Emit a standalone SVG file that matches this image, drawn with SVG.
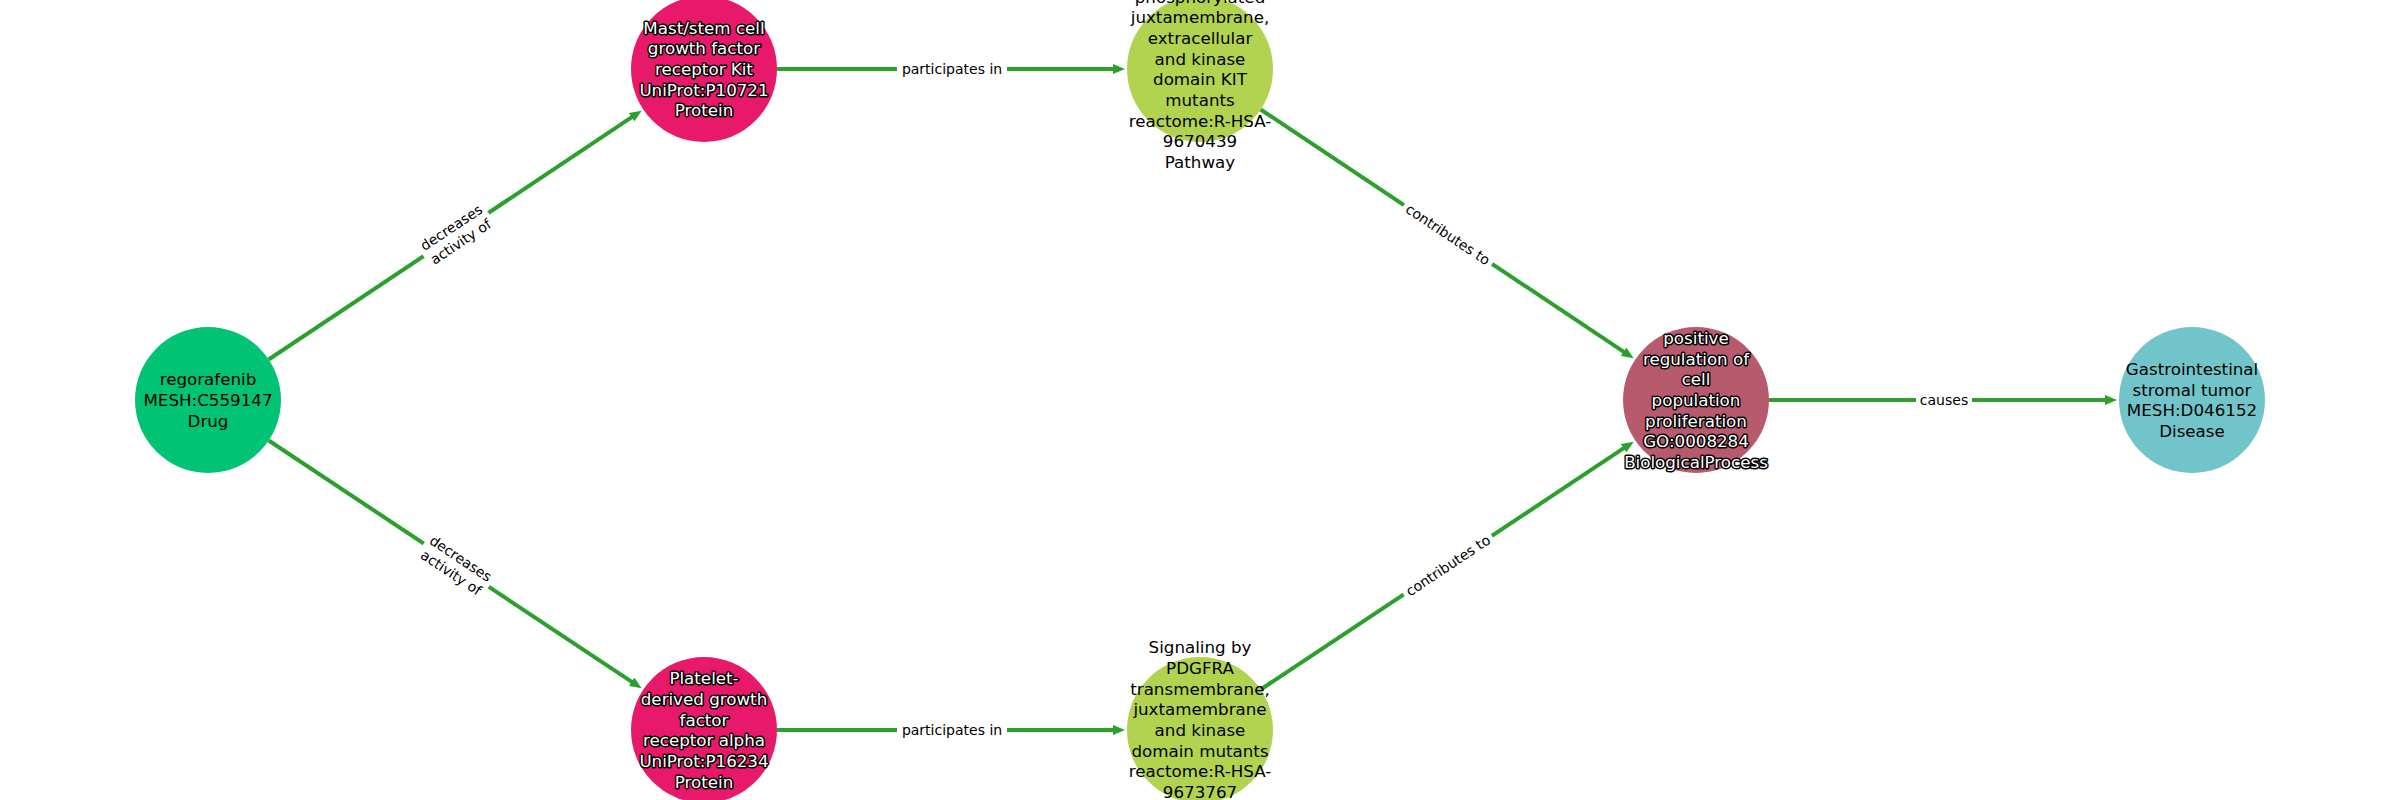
<svg xmlns="http://www.w3.org/2000/svg" width="2400" height="800" viewBox="0 0 2400 800">
<style>
.edge{stroke:#2ca02c;stroke-width:4;fill:none;marker-end:url(#arr)}
.nl{font-family:"DejaVu Sans",sans-serif;font-size:16.7px;text-anchor:middle;fill:#000}
.halo{fill:#fff;stroke:#000;stroke-width:3;paint-order:stroke;stroke-linejoin:round}
.el{font-family:"DejaVu Sans",sans-serif;font-size:14px;text-anchor:middle;fill:#000}
.lb{fill:#fff}
</style>
<defs>
<marker id="arr" markerUnits="userSpaceOnUse" markerWidth="12" markerHeight="10" refX="2" refY="5" orient="auto" viewBox="0 0 12 10">
<path d="M0,0 L12,5 L0,10 z" fill="#2ca02c"/>
</marker>
</defs>
<rect width="2400" height="800" fill="#fff"/>
<g id="connectors">
<line class="edge" x1="268.7" y1="359.5" x2="633.3" y2="116.2"/>
<line class="edge" x1="268.7" y1="440.5" x2="633.3" y2="682.8"/>
<line class="edge" x1="777" y1="69" x2="1115" y2="69"/>
<line class="edge" x1="777" y1="730" x2="1115" y2="730"/>
<line class="edge" x1="1260.7" y1="109.5" x2="1625.3" y2="352.8"/>
<line class="edge" x1="1260.7" y1="689.5" x2="1625.3" y2="447.2"/>
<line class="edge" x1="1769" y1="400" x2="2107" y2="400"/>
<g transform="translate(456,234.5) rotate(-33.7)">
<rect class="lb" x="-39" y="-19" width="78" height="38"/>
<text class="el" y="-3.5">decreases</text>
<text class="el" y="13.5">activity of</text>
</g>
<g transform="translate(456,565.5) rotate(33.7)">
<rect class="lb" x="-39" y="-19" width="78" height="38"/>
<text class="el" y="-3.5">decreases</text>
<text class="el" y="13.5">activity of</text>
</g>
<g transform="translate(952,69)">
<rect class="lb" x="-55" y="-10" width="110" height="20"/>
<text class="el" y="5">participates in</text>
</g>
<g transform="translate(952,730)">
<rect class="lb" x="-55" y="-10" width="110" height="20"/>
<text class="el" y="5">participates in</text>
</g>
<g transform="translate(1448,234.5) rotate(33.7)">
<rect class="lb" x="-53" y="-10" width="106" height="20"/>
<text class="el" y="5">contributes to</text>
</g>
<g transform="translate(1448,565.5) rotate(-33.7)">
<rect class="lb" x="-53" y="-10" width="106" height="20"/>
<text class="el" y="5">contributes to</text>
</g>
<g transform="translate(1944,400)">
<rect class="lb" x="-28" y="-10" width="56" height="20"/>
<text class="el" y="5">causes</text>
</g>
</g>
<g id="node-regorafenib">
<circle cx="208" cy="400" r="73" fill="#00c373"/>
<text class="nl"><tspan x="208" y="385.3">regorafenib</tspan><tspan x="208" y="406">MESH:C559147</tspan><tspan x="208" y="426.7">Drug</tspan></text>
</g>
<g id="node-kit">
<circle cx="704" cy="69" r="73" fill="#e8196a"/>
<text class="nl halo"><tspan x="704" y="33.6">Mast/stem cell</tspan><tspan x="704" y="54.3">growth factor</tspan><tspan x="704" y="75">receptor Kit</tspan><tspan x="704" y="95.7">UniProt:P10721</tspan><tspan x="704" y="116.4">Protein</tspan></text>
</g>
<g id="node-pdgfra">
<circle cx="704" cy="730" r="73" fill="#e8196a"/>
<text class="nl halo"><tspan x="704" y="684.25">Platelet-</tspan><tspan x="704" y="704.95">derived growth</tspan><tspan x="704" y="725.65">factor</tspan><tspan x="704" y="746.35">receptor alpha</tspan><tspan x="704" y="767.05">UniProt:P16234</tspan><tspan x="704" y="787.75">Protein</tspan></text>
</g>
<g id="node-kit-pathway">
<circle cx="1200" cy="69" r="73" fill="#b2d34f"/>
<text class="nl"><tspan x="1200" y="2.55">phosphorylated</tspan><tspan x="1200" y="23.25">juxtamembrane,</tspan><tspan x="1200" y="43.95">extracellular</tspan><tspan x="1200" y="64.65">and kinase</tspan><tspan x="1200" y="85.35">domain KIT</tspan><tspan x="1200" y="106.05">mutants</tspan><tspan x="1200" y="126.75">reactome:R-HSA-</tspan><tspan x="1200" y="147.45">9670439</tspan><tspan x="1200" y="168.15">Pathway</tspan></text>
</g>
<g id="node-pdgfra-pathway">
<circle cx="1200" cy="730" r="73" fill="#b2d34f"/>
<text class="nl"><tspan x="1200" y="653.2">Signaling by</tspan><tspan x="1200" y="673.9">PDGFRA</tspan><tspan x="1200" y="694.6">transmembrane,</tspan><tspan x="1200" y="715.3">juxtamembrane</tspan><tspan x="1200" y="736">and kinase</tspan><tspan x="1200" y="756.7">domain mutants</tspan><tspan x="1200" y="777.4">reactome:R-HSA-</tspan><tspan x="1200" y="798.1">9673767</tspan></text>
</g>
<g id="node-proliferation">
<circle cx="1696" cy="400" r="73" fill="#b85a6e"/>
<text class="nl halo"><tspan x="1696" y="343.9">positive</tspan><tspan x="1696" y="364.6">regulation of</tspan><tspan x="1696" y="385.3">cell</tspan><tspan x="1696" y="406">population</tspan><tspan x="1696" y="426.7">proliferation</tspan><tspan x="1696" y="447.4">GO:0008284</tspan><tspan x="1696" y="468.1">BiologicalProcess</tspan></text>
</g>
<g id="node-gist">
<circle cx="2192" cy="400" r="73" fill="#71c5ca"/>
<text class="nl"><tspan x="2192" y="374.95">Gastrointestinal</tspan><tspan x="2192" y="395.65">stromal tumor</tspan><tspan x="2192" y="416.35">MESH:D046152</tspan><tspan x="2192" y="437.05">Disease</tspan></text>
</g>
</svg>
